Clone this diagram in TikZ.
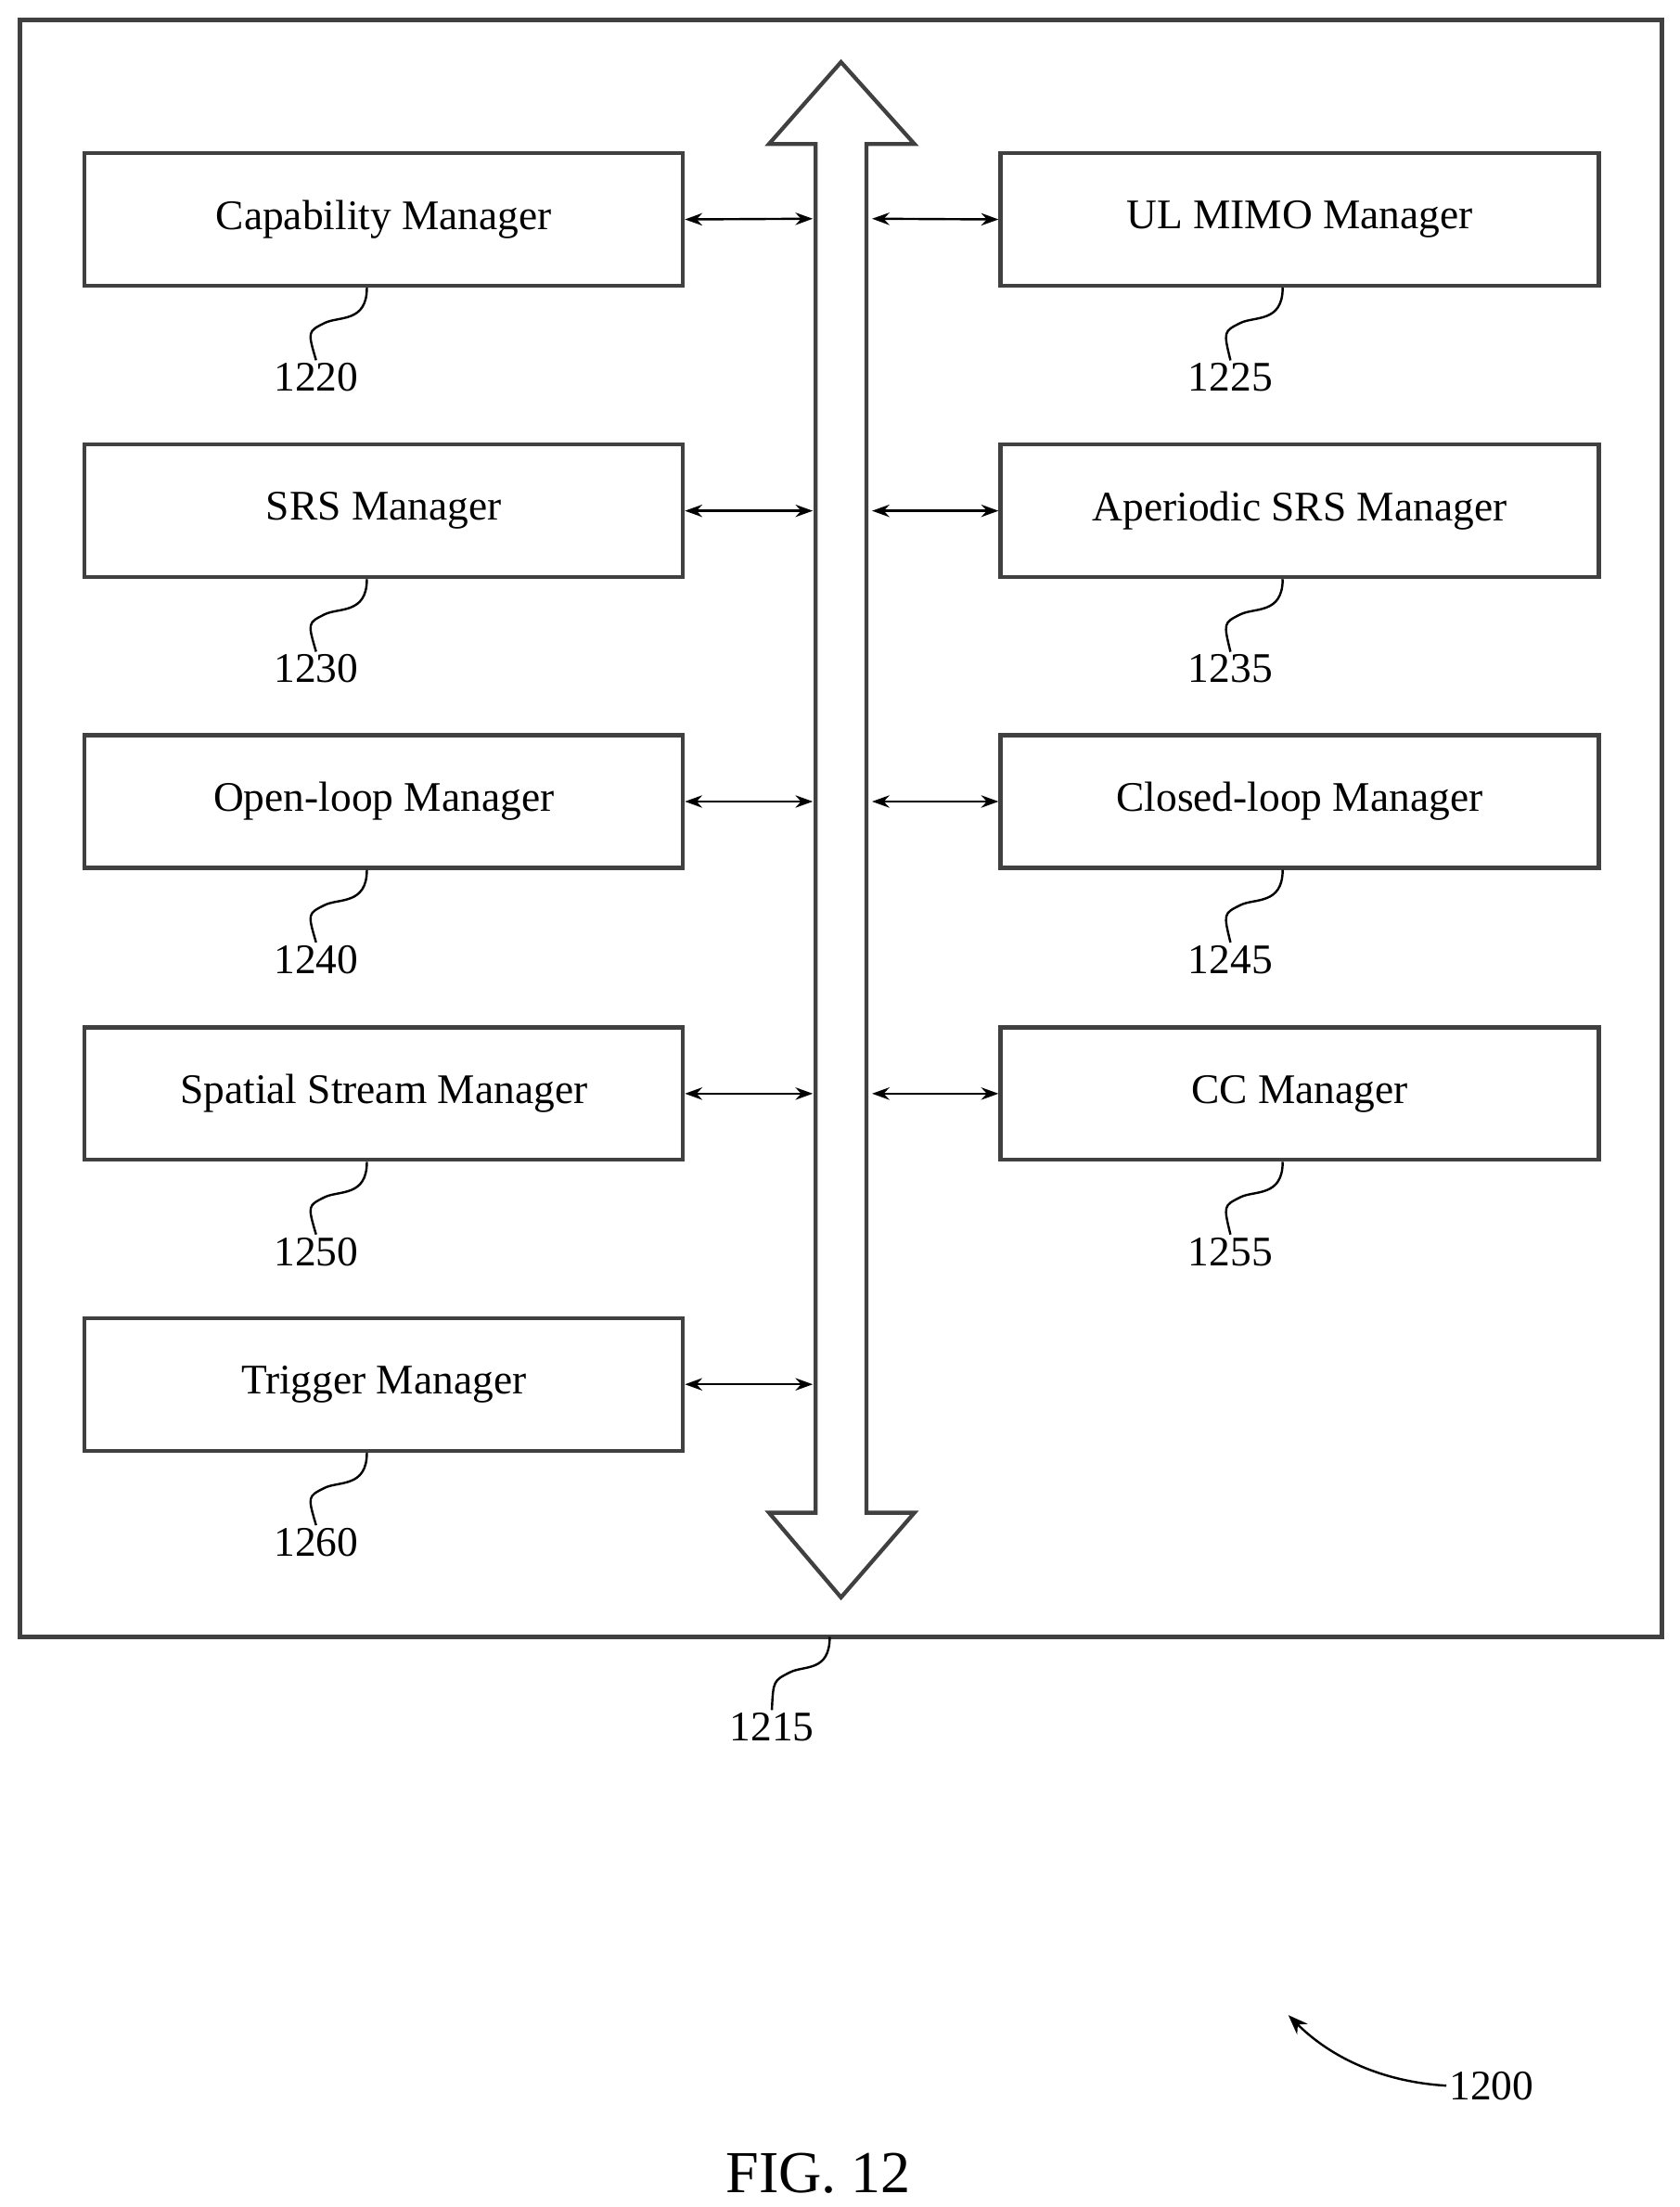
\documentclass[tikz,border=0pt]{standalone}
\usepackage{fontspec}
\setmainfont{Liberation Serif}
\usetikzlibrary{arrows.meta}
\begin{document}
\begin{tikzpicture}[x=0.02cm,y=-0.02cm,
  box/.style={draw=black!75,line width=1.6pt,minimum width=8.48cm,minimum height=1.88cm,inner sep=0pt,font=\fontsize{17}{20}\selectfont},
  lbl/.style={font=\fontsize{17}{20}\selectfont,inner sep=1pt},
  lead/.style={line width=0.9pt},
  conn/.style={line width=0.9pt,{Stealth[length=7pt,width=5pt]}-{Stealth[length=7pt,width=5pt]}}]
\useasboundingbox (0,0) rectangle (1190,1564);
\draw[line width=1.8pt,draw=black!75] (14,14) rectangle (1178,1160);
% bus arrow
\draw[line width=1.6pt,draw=black!75,fill=white] (596,44) -- (648,102) -- (614,102) -- (614,1072) -- (648,1072) -- (596,1132) -- (545,1072) -- (578,1072) -- (578,102) -- (545,102) -- cycle;
\coordinate (busL1) at (576,155); \coordinate (busR1) at (618,155);
\coordinate (busL2) at (576,362); \coordinate (busR2) at (618,362);
\coordinate (busL3) at (576,568); \coordinate (busR3) at (618,568);
\coordinate (busL4) at (576,775); \coordinate (busR4) at (618,775);
\coordinate (busL5) at (576,981);
\foreach \n/\t/\y/\num in {1/Capability Manager/155.5/1220,2/SRS Manager/362/1230,3/Open-loop Manager/568/1240,4/Spatial Stream Manager/775/1250,5/Trigger Manager/981/1260}{
  \node[box] (L\n) at (272,\y) {\t};
  \node[lbl] (nL\n) at (224,\y+112) {\num};
  \draw[lead] (L\n.south) ++(-12,0) .. controls +(0,25) and +(10,-5) .. ++(-30,25) .. controls +(-12,6) .. (nL\n.north);
  \draw[conn] (L\n.east) -- (busL\n);
}
\foreach \n/\t/\y/\num in {1/UL MIMO Manager/155.5/1225,2/Aperiodic SRS Manager/362/1235,3/Closed-loop Manager/568/1245,4/CC Manager/775/1255}{
  \node[box] (R\n) at (921,\y) {\t};
  \node[lbl] (nR\n) at (872,\y+112) {\num};
  \draw[lead] (R\n.south) ++(-12,0) .. controls +(0,25) and +(10,-5) .. ++(-30,25) .. controls +(-12,6) .. (nR\n.north);
  \draw[conn] (busR\n) -- (R\n.west);
}
\coordinate (outerB) at (588,1160);
\node[lbl] (n1215) at (547,1224) {1215};
\draw[lead] (outerB) .. controls +(0,25) and +(10,-5) .. (560,1185) .. controls +(-12,6) .. (n1215.north);
\node[lbl] (n1200) at (1057,1478) {1200};
\coordinate (a1200) at (913,1428);
\draw[lead,-{Stealth[length=8pt,width=6pt]}] (n1200.west) .. controls (975,1475) and (940,1455) .. (a1200);
\node[font=\fontsize{24}{28}\selectfont] (fig) at (580,1540) {FIG. 12};
\end{tikzpicture}
\end{document}
